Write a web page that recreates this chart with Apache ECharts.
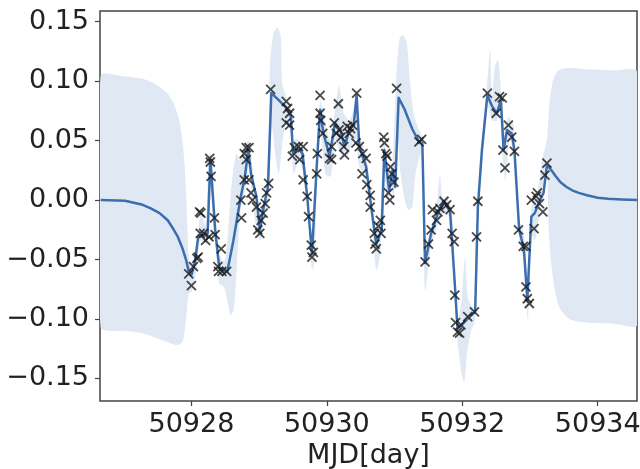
<!DOCTYPE html>
<html>
<head>
<meta charset="utf-8">
<script src="https://cdn.jsdelivr.net/npm/echarts@6/dist/echarts.min.js"></script>
<style>
  html, body {margin: 0; padding: 0; background: #fff;}
  #gp {width: 640px; height: 469px;}
</style>
</head>
<body>
<div id="gp"></div>
<script>
// observed points (MJD, value)
var obsDays = [
    50927.96, 50928.00, 50928.03, 50928.08, 50928.10, 50928.12, 50928.14, 50928.13, 50928.18, 50928.21,
    50928.26, 50928.27, 50928.28, 50928.29, 50928.34, 50928.35, 50928.39, 50928.40, 50928.44, 50928.45,
    50928.52, 50928.73, 50928.74, 50928.78, 50928.78, 50928.81, 50928.85, 50928.81, 50928.85, 50928.88,
    50928.90, 50928.96, 50928.98, 50929.01, 50929.03, 50929.06, 50929.09, 50929.11, 50929.14, 50929.17,
    50929.40, 50929.42, 50929.45, 50929.40, 50929.45, 50929.49, 50929.52, 50929.58, 50929.60, 50929.65,
    50929.65, 50929.71, 50929.73, 50929.77, 50929.78, 50929.80, 50929.85, 50929.86, 50929.90, 50929.90,
    50929.91, 50929.94, 50930.04, 50930.07, 50930.07, 50930.11, 50930.14, 50930.17, 50930.18, 50930.21,
    50930.25, 50930.26, 50930.30, 50930.33, 50930.35, 50930.38, 50930.44, 50930.43, 50930.48, 50930.53,
    50930.58, 50930.52, 50930.59, 50930.64, 50930.64, 50930.70, 50930.71, 50930.73, 50930.76, 50930.79,
    50930.80, 50930.84, 50930.85, 50930.87, 50930.89, 50930.91, 50930.93, 50930.94, 50930.96, 50930.99,
    50931.03, 50931.36, 50931.40, 50931.45, 50931.50, 50931.54, 50931.56, 50931.62, 50931.64, 50931.67,
    50931.73, 50931.77, 50931.82, 50931.85, 50931.88, 50931.89, 50931.90, 50931.93, 50931.96, 50931.98,
    50932.08, 50932.18, 50932.21, 50932.23, 50932.37, 50932.50, 50932.55, 50932.59, 50932.60, 50932.63,
    50932.68, 50932.73, 50932.77, 50932.83, 50932.90, 50932.94, 50932.94, 50932.96, 50932.99, 50933.02,
    50933.06, 50933.09, 50933.11, 50933.14, 50933.19, 50933.22, 50933.25
];
var obsFlux = [
    -0.062, -0.072, -0.056, -0.049, -0.048, -0.010, -0.011, -0.028, -0.028, -0.034,
    -0.031, 0.035, 0.032, 0.020, -0.015, -0.029, -0.056, -0.060, -0.041, -0.060,
    -0.060, 0.000, -0.015, 0.017, 0.039, 0.044, 0.044, 0.034, 0.017, 0.006,
    0.000, -0.006, -0.025, -0.028, -0.017, -0.011, -0.003, 0.006, 0.014, 0.093,
    0.083, 0.077, 0.073, 0.065, 0.063, 0.037, 0.044, 0.045, 0.034, 0.045,
    0.017, 0.003, -0.014, -0.038, -0.048, -0.044, 0.022, 0.039, 0.088, 0.073,
    0.067, 0.056, 0.035, 0.034, 0.045, 0.065, 0.056, 0.081, 0.059, 0.053,
    0.045, 0.038, 0.062, 0.056, 0.060, 0.063, 0.090, 0.048, 0.045, 0.039,
    0.035, 0.022, 0.013, 0.004, -0.006, -0.028, -0.037, -0.041, -0.022, -0.017,
    -0.028, 0.053, 0.048, 0.039, 0.037, 0.006, 0.000, 0.028, 0.022, 0.015,
    0.094, 0.049, 0.051, -0.052, -0.037, -0.025, -0.008, -0.017, -0.010, -0.007,
    -0.001, -0.004, -0.008, -0.028, -0.035, -0.080, -0.103, -0.111, -0.112, -0.105,
    -0.098, -0.094, -0.031, -0.001, 0.090, 0.073, 0.087, 0.086, 0.042, 0.027,
    0.063, 0.053, 0.041, -0.025, -0.039, -0.039, -0.073, -0.083, -0.087, 0.000,
    -0.024, 0.003, 0.006, -0.003, -0.010, 0.021, 0.031
];

// GP predictive mean
var meanDays = [
    50926.66, 50927.02, 50927.28, 50927.40, 50927.53, 50927.65, 50927.74, 50927.80, 50927.87, 50927.92,
    50927.96, 50928.00, 50928.05, 50928.10,
    50928.18, 50928.24, 50928.28, 50928.35, 50928.41, 50928.47, 50928.53, 50928.62, 50928.72, 50928.79,
    50928.84, 50928.88, 50928.96, 50929.01, 50929.06, 50929.13, 50929.18, 50929.29, 50929.41, 50929.47,
    50929.50, 50929.58, 50929.64, 50929.71, 50929.78, 50929.85, 50929.90, 50929.95, 50930.04, 50930.12,
    50930.20, 50930.26, 50930.34, 50930.40, 50930.44, 50930.48, 50930.58, 50930.66, 50930.73, 50930.81,
    50930.85, 50930.92, 50930.97, 50931.01, 50931.06, 50931.15, 50931.26, 50931.36, 50931.41, 50931.45,
    50931.54, 50931.64, 50931.73, 50931.82, 50931.88, 50931.93, 50932.01, 50932.11, 50932.19, 50932.23,
    50932.29, 50932.37, 50932.44, 50932.51, 50932.57, 50932.61, 50932.66, 50932.73, 50932.77, 50932.84,
    50932.91, 50932.96, 50933.02, 50933.07, 50933.14, 50933.20, 50933.25, 50933.29, 50933.33, 50933.38,
    50933.45, 50933.54, 50933.63, 50933.72, 50933.84, 50934.00, 50934.15, 50934.35, 50934.58
];
var meanFlux = [
    0.000, -0.0006, -0.004, -0.007, -0.011, -0.017, -0.025, -0.031, -0.041, -0.050,
    -0.060, -0.063, -0.053, -0.031,
    -0.029, -0.028, 0.034, -0.025, -0.056, -0.060, -0.060, -0.034, 0.000, 0.020,
    0.042, 0.022, 0.003, -0.025, -0.008, 0.011, 0.090, 0.084, 0.077, 0.070,
    0.039, 0.044, 0.039, 0.003, -0.045, 0.028, 0.076, 0.056, 0.037, 0.065,
    0.059, 0.045, 0.060, 0.065, 0.088, 0.045, 0.028, -0.008, -0.037, -0.025,
    0.042, 0.008, 0.025, 0.011, 0.086, 0.076, 0.060, 0.049, 0.048, -0.053,
    -0.028, -0.011, -0.001, -0.010, -0.062, -0.108, -0.104, -0.098, -0.094, -0.006,
    0.042, 0.088, 0.079, 0.073, 0.084, 0.042, 0.059, 0.056, 0.042, -0.025,
    -0.041, -0.084, -0.014, -0.011, -0.001, 0.006, 0.029, 0.027, 0.024, 0.020,
    0.015, 0.011, 0.008, 0.006, 0.004, 0.002, 0.001, 0.0005, 0.000
];

// confidence band edges [MJD, value]
var bandUpper = [
    [50926.66, 0.1045], [50927.02, 0.104], [50927.28, 0.102], [50927.48, 0.097], [50927.64, 0.090],
    [50927.74, 0.081], [50927.82, 0.067], [50927.87, 0.048], [50927.91, 0.020], [50927.94, -0.022],
    [50927.97, -0.053], [50928.01, -0.053], [50928.08, -0.042], [50928.11, -0.022], [50928.14, -0.007],
    [50928.21, -0.022], [50928.26, 0.039], [50928.30, 0.037], [50928.36, -0.014], [50928.42, -0.048],
    [50928.49, -0.051], [50928.54, -0.028], [50928.59, 0.011], [50928.66, 0.039], [50928.72, 0.034],
    [50928.78, 0.048], [50928.85, 0.049], [50928.90, 0.028], [50928.98, -0.011], [50929.06, -0.003],
    [50929.13, 0.028], [50929.16, 0.112], [50929.21, 0.140], [50929.27, 0.145], [50929.32, 0.138],
    [50929.34, 0.098], [50929.40, 0.087], [50929.46, 0.079], [50929.50, 0.051], [50929.58, 0.051],
    [50929.65, 0.045], [50929.71, 0.011], [50929.77, -0.028], [50929.81, -0.014], [50929.86, 0.051],
    [50929.90, 0.084], [50929.94, 0.076], [50930.01, 0.056], [50930.07, 0.048], [50930.12, 0.076],
    [50930.18, 0.096], [50930.25, 0.073], [50930.33, 0.067], [50930.38, 0.073], [50930.44, 0.094],
    [50930.48, 0.056], [50930.58, 0.037], [50930.66, 0.000], [50930.73, -0.025], [50930.79, -0.011],
    [50930.84, 0.051], [50930.91, 0.022], [50930.97, 0.034], [50931.02, 0.098], [50931.07, 0.135],
    [50931.12, 0.139], [50931.18, 0.132], [50931.23, 0.098], [50931.28, 0.073], [50931.36, 0.059],
    [50931.41, 0.053], [50931.45, -0.045], [50931.54, -0.022], [50931.62, -0.006], [50931.67, 0.022],
    [50931.71, 0.000], [50931.77, 0.003], [50931.85, -0.011], [50931.89, -0.073], [50931.93, -0.104],
    [50931.99, -0.084], [50932.04, -0.048], [50932.09, -0.084], [50932.18, -0.090], [50932.23, 0.003],
    [50932.29, 0.051], [50932.36, 0.093], [50932.41, 0.126], [50932.44, 0.087], [50932.48, 0.112],
    [50932.53, 0.118], [50932.57, 0.093], [50932.63, 0.056], [50932.68, 0.070], [50932.76, 0.062],
    [50932.84, -0.017], [50932.91, -0.028], [50932.96, -0.079], [50933.02, -0.006], [50933.11, 0.008],
    [50933.18, 0.034], [50933.25, 0.051], [50933.28, 0.076], [50933.33, 0.098], [50933.40, 0.108],
    [50933.53, 0.111], [50933.84, 0.110], [50934.25, 0.109], [50934.58, 0.108]
];
var bandLower = [
    [50926.66, -0.107], [50927.02, -0.110], [50927.28, -0.112], [50927.53, -0.117], [50927.72, -0.121],
    [50927.80, -0.122], [50927.87, -0.119], [50927.92, -0.101], [50927.96, -0.079], [50928.01, -0.076],
    [50928.08, -0.056], [50928.13, -0.034], [50928.23, -0.037], [50928.27, 0.022], [50928.34, -0.028],
    [50928.41, -0.070], [50928.48, -0.073], [50928.53, -0.084], [50928.58, -0.097], [50928.63, -0.090],
    [50928.67, -0.056], [50928.72, -0.011], [50928.80, 0.011], [50928.85, 0.028], [50928.90, 0.000],
    [50928.97, -0.028], [50929.02, -0.034], [50929.09, -0.011], [50929.14, 0.003], [50929.19, 0.062],
    [50929.24, 0.037], [50929.29, 0.022], [50929.35, 0.051], [50929.41, 0.067], [50929.47, 0.056],
    [50929.51, 0.022], [50929.59, 0.034], [50929.65, 0.022], [50929.72, -0.006], [50929.78, -0.059],
    [50929.82, -0.051], [50929.86, 0.028], [50929.91, 0.056], [50929.98, 0.022], [50930.06, 0.020],
    [50930.12, 0.051], [50930.22, 0.037], [50930.30, 0.037], [50930.38, 0.048], [50930.43, 0.051],
    [50930.48, 0.028], [50930.58, 0.020], [50930.66, -0.017], [50930.73, -0.059], [50930.79, -0.045],
    [50930.84, 0.028], [50930.90, -0.006], [50930.95, 0.011], [50930.99, 0.000], [50931.04, 0.056],
    [50931.09, 0.022], [50931.15, 0.000], [50931.20, -0.008], [50931.26, -0.006], [50931.31, 0.022],
    [50931.39, 0.039], [50931.42, 0.011], [50931.45, -0.076], [50931.54, -0.039], [50931.63, -0.022],
    [50931.72, -0.011], [50931.80, -0.014], [50931.86, -0.039], [50931.89, -0.090], [50931.94, -0.124],
    [50931.99, -0.146], [50932.03, -0.153], [50932.07, -0.129], [50932.13, -0.110], [50932.19, -0.101],
    [50932.23, -0.011], [50932.30, 0.034], [50932.37, 0.079], [50932.44, 0.067], [50932.51, 0.067],
    [50932.56, 0.079], [50932.60, 0.034], [50932.64, 0.017], [50932.70, 0.051], [50932.77, 0.034],
    [50932.84, -0.034], [50932.91, -0.051], [50932.97, -0.101], [50933.02, -0.028], [50933.07, -0.034],
    [50933.14, -0.011], [50933.19, 0.011], [50933.25, 0.022], [50933.28, -0.028], [50933.33, -0.062],
    [50933.43, -0.090], [50933.58, -0.100], [50933.84, -0.103], [50934.25, -0.104], [50934.58, -0.105]
];

var xTicks = [50928, 50930, 50932, 50934];
var yTicks = [-0.15, -0.10, -0.05, 0.00, 0.05, 0.10, 0.15];

function pairs(xs, ys) {
    return xs.map(function (x, i) { return [x, ys[i]]; });
}

var option = {
    animation: false,
    grid: {left: 100, right: 3, top: 11, bottom: 68, show: true, borderColor: '#444', borderWidth: 1.5,
        outerBoundsMode: 'none'},
    xAxis: {
        type: 'value', min: 50926.65, max: 50934.58,
        name: 'MJD[day]', nameLocation: 'middle', nameGap: 37,
        nameTextStyle: {fontFamily: 'DejaVu Sans', fontSize: 27, color: '#222'},
        axisLine: {show: false, onZero: false},
        axisTick: {show: true, length: 5, lineStyle: {color: '#444', width: 1.2}, customValues: xTicks},
        axisLabel: {fontFamily: 'DejaVu Sans', fontSize: 27, color: '#222', margin: 10, customValues: xTicks,
            hideOverlap: false, formatter: function (v) { return String(v); }},
        splitLine: {show: false}
    },
    yAxis: {
        type: 'value', min: -0.169, max: 0.159,
        axisLine: {show: false, onZero: false},
        axisTick: {show: true, length: 5, lineStyle: {color: '#444', width: 1.2}, customValues: yTicks},
        axisLabel: {fontFamily: 'DejaVu Sans', fontSize: 27, color: '#222', margin: 11, customValues: yTicks,
            formatter: function (v) { return v.toFixed(2).replace('-', '\u2212'); }},
        splitLine: {show: false}
    },
    series: [
        {
            type: 'custom', silent: true, clip: true, z: 1,
            data: [[50930, 0]],
            renderItem: function (params, api) {
                var pts = [];
                bandUpper.forEach(function (p) { pts.push(api.coord(p)); });
                bandLower.slice().reverse().forEach(function (p) { pts.push(api.coord(p)); });
                return {type: 'polygon', shape: {points: pts, smooth: 0.25}, style: {fill: '#dfe8f3'}};
            }
        },
        {
            type: 'line', z: 2, clip: true,
            data: pairs(meanDays, meanFlux),
            showSymbol: false, smooth: false,
            lineStyle: {color: '#3b6eaf', width: 2.5, join: 'round'}
        },
        {
            type: 'scatter', z: 3,
            data: pairs(obsDays, obsFlux),
            symbol: 'path://M0,0L10,10M10,0L0,10', symbolSize: 9,
            itemStyle: {color: 'none', borderColor: '#1a1a1a', borderWidth: 1.8}
        }
    ]
};

var myChart = echarts.init(document.getElementById('gp'));
myChart.setOption(option);
</script>
</body>
</html>
